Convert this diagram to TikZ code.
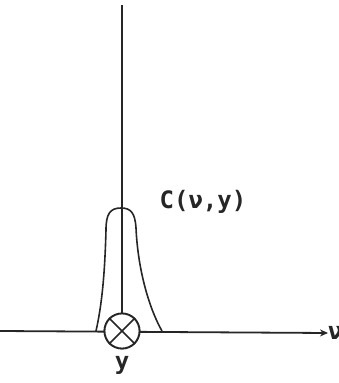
\documentclass[tikz,border=0pt]{standalone}
\usepackage{fontspec}
\setmainfont{DejaVu Sans}
\newfontfamily\labelfont{DejaVu Sans Mono}
\usetikzlibrary{arrows.meta, positioning}

\begin{document}
\begin{tikzpicture}[
    x=1pt, y=-1pt,
    axis/.style={line width=1.8pt, black!85},
    curve/.style={line width=1.6pt, black!85},
    mixer/.style={circle, draw=black!85, fill=white, line width=1.8pt, minimum size=35pt, inner sep=0pt},
    lbl/.style={font=\labelfont\bfseries\fontsize{24}{26}\selectfont, text=black!85, inner sep=0pt}
]
\useasboundingbox (0,0) rectangle (339,383);

% Axes
\coordinate (yTop) at (122,5);
\coordinate (xLeft) at (0,331);
\node[lbl, anchor=west] (nu) at (328,333) {ν};
\node[mixer] (mix) at (122,331) {};
\draw[axis, -{Stealth[length=8pt, width=7pt]}] (xLeft) -- (nu.west);
\draw[axis] (yTop) -- (mix.north);

% Line shape
\draw[curve] (96,331) .. controls (103,300) and (105,265) .. (106,230)
    .. controls (106,214) and (110,208) .. (121,208)
    .. controls (131,208) and (135,213) .. (136,228)
    .. controls (138,272) and (150,310) .. (162,331);

% Mixer on top
\node[mixer] (mix2) at (mix) {};
\draw[curve] (mix2.north east) -- (mix2.south west);
\draw[curve] (mix2.north west) -- (mix2.south east);

% Labels
\node[lbl] (cv) at (203,202) {C(ν,y)};
\node[lbl, below=7pt of mix2] (ylbl) {y};
\end{tikzpicture}
\end{document}
